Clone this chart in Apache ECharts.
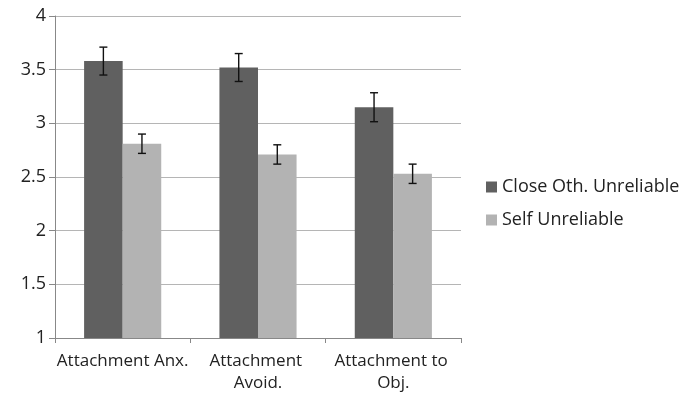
<!DOCTYPE html>
<html>
<head>
<meta charset="utf-8">
<script src="https://cdn.jsdelivr.net/npm/echarts@6/dist/echarts.min.js"></script>
<style>
  html, body { margin: 0; padding: 0; background: #fff; }
  #chart { width: 691px; height: 399px; }
</style>
</head>
<body>
<div id="chart"></div>
<script>
// categories and values
const categories = ['Attachment Anx.', 'Attachment Avoid.', 'Attachment to Obj.']
const closeOther = [3.58, 3.52, 3.15]
const closeOtherErr = [0.13, 0.13, 0.135]
const self = [2.81, 2.71, 2.53]
const selfErr = [0.09, 0.09, 0.09]
const seriesNames = ['Close Oth. Unreliable', 'Self Unreliable']

const FONT = '"Open Sans", "Noto Sans", sans-serif'
const GAP = 0.43 // barCategoryGap

// error bar drawn by a custom series, shifted onto its bar
function errorBars(values, errs, side) {
  return {
    type: 'custom',
    silent: true,
    z: 10,
    data: values.map((v, i) => [i, v - errs[i], v + errs[i]]),
    renderItem(params, api) {
      const lo = api.coord([api.value(0), api.value(1)])
      const hi = api.coord([api.value(0), api.value(2)])
      const band = api.size([1, 0])[0]
      const barW = band * (1 - GAP) / 2
      const x = lo[0] + side * barW / 2
      const cap = 4
      const style = { stroke: '#111', lineWidth: 1.4 }
      return {
        type: 'group',
        children: [
          { type: 'line', shape: { x1: x, y1: lo[1], x2: x, y2: hi[1] }, style },
          { type: 'line', shape: { x1: x - cap, y1: lo[1], x2: x + cap, y2: lo[1] }, style },
          { type: 'line', shape: { x1: x - cap, y1: hi[1], x2: x + cap, y2: hi[1] }, style }
        ]
      }
    }
  }
}

const chart = echarts.init(document.getElementById('chart'))
chart.setOption({
  animation: false,
  textStyle: { fontFamily: FONT },
  grid: { left: 55, right: 230, top: 16, bottom: 61 },
  legend: {
    orient: 'vertical',
    left: 481,
    top: 173,
    itemWidth: 11,
    itemHeight: 11,
    itemGap: 15,
    icon: 'rect',
    data: seriesNames,
    textStyle: { fontFamily: FONT, fontSize: 18, color: '#222' }
  },
  xAxis: {
    type: 'category',
    data: categories,
    axisLine: { lineStyle: { color: '#888', width: 1 } },
    axisTick: { show: true, length: 5, lineStyle: { color: '#888' } },
    axisLabel: {
      fontFamily: FONT,
      fontSize: 17,
      color: '#222',
      margin: 12,
      lineHeight: 22,
      width: 138,
      overflow: 'break',
      interval: 0
    }
  },
  yAxis: {
    type: 'value',
    min: 1,
    max: 4,
    interval: 0.5,
    axisLine: { show: true, lineStyle: { color: '#888', width: 1 } },
    axisTick: { show: true, length: 6, lineStyle: { color: '#888' } },
    splitLine: { lineStyle: { color: '#b5b5b5', width: 1 } },
    axisLabel: { fontFamily: FONT, fontSize: 18, color: '#222', margin: 9 }
  },
  series: [
    {
      name: seriesNames[0],
      type: 'bar',
      data: closeOther,
      barGap: '0%',
      barCategoryGap: (GAP * 100) + '%',
      itemStyle: { color: '#606060' }
    },
    {
      name: seriesNames[1],
      type: 'bar',
      data: self,
      itemStyle: { color: '#b3b3b3' }
    },
    errorBars(closeOther, closeOtherErr, -1),
    errorBars(self, selfErr, 1)
  ]
})
</script>
</body>
</html>
